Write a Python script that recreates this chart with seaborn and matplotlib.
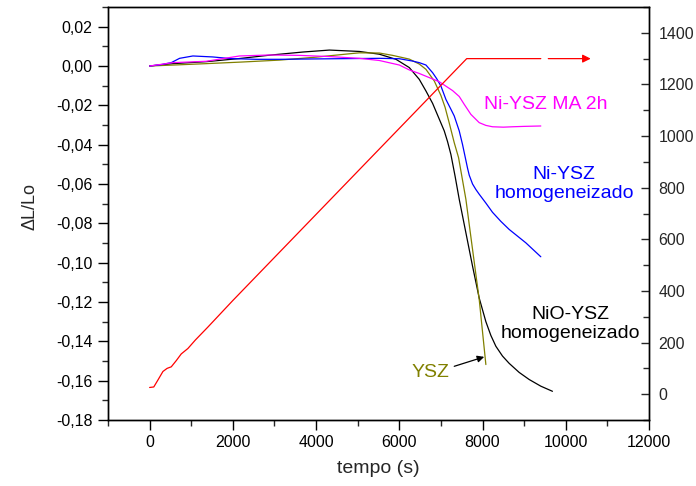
import numpy as np
import pandas as pd
import matplotlib
matplotlib.use("Agg")
import matplotlib.pyplot as plt
from matplotlib.ticker import MultipleLocator, FuncFormatter
import seaborn as sns

# Dilatometry curves: relative shrinkage vs time
t_nio = [0, 560, 1360, 2160, 2880, 3680, 4320, 5040, 5520, 5920, 6240, 6480, 6640,
         6800, 6960, 7080, 7160, 7240, 7340, 7440, 7600, 7760, 7920, 8080, 8200,
         8320, 8480, 8640, 8880, 9120, 9400, 9680]
dl_nio = [0.0, 0.0012, 0.0022, 0.0038, 0.0055, 0.0071, 0.0081, 0.0074, 0.0060, 0.0034,
          -0.0008, -0.0068, -0.0127, -0.0190, -0.0270, -0.0330, -0.0385, -0.0450,
          -0.0560, -0.0678, -0.0848, -0.1018, -0.1180, -0.1300, -0.1370, -0.1425,
          -0.1475, -0.1512, -0.1558, -0.1594, -0.1628, -0.1654]

t_ysz = [0, 700, 1360, 2200, 3120, 4000, 4700, 5040, 5520, 5840, 6240, 6480, 6640,
         6840, 7000, 7100, 7200, 7320, 7424, 7600, 7760, 7920, 8080]
dl_ysz = [0.0, 0.0006, 0.0012, 0.0020, 0.0030, 0.0045, 0.0060, 0.0067, 0.0066, 0.0054,
          0.0035, 0.0010, -0.0017, -0.0076, -0.0150, -0.0210, -0.0290, -0.0390,
          -0.0466, -0.0678, -0.0933, -0.1187, -0.1518]

t_ni = [0, 250, 520, 720, 1040, 1520, 1920, 2560, 3120, 4000, 5000, 5520, 6000, 6320,
        6480, 6640, 6800, 6900, 7000, 7120, 7240, 7320, 7440, 7520, 7600, 7640, 7680,
        7760, 7840, 7920, 8080, 8240, 8440, 8640, 9040, 9400]
dl_ni = [0.0, 0.0006, 0.0017, 0.0039, 0.0051, 0.0046, 0.0038, 0.0034, 0.0034, 0.0036,
         0.0038, 0.0039, 0.0037, 0.0025, 0.0017, 0.0005, -0.0034, -0.0065, -0.0102,
         -0.0170, -0.0220, -0.0254, -0.0330, -0.0400, -0.0480, -0.0520, -0.0555,
         -0.0600, -0.0628, -0.0652, -0.0697, -0.0744, -0.0790, -0.0831, -0.0899,
         -0.0970]

t_ma = [0, 560, 1360, 2160, 2880, 3600, 4320, 5040, 5520, 6000, 6240, 6480, 6960, 7280,
        7440, 7560, 7720, 7920, 8080, 8240, 8500, 8720, 9000, 9400]
dl_ma = [0.0, 0.0017, 0.0024, 0.0051, 0.0056, 0.0054, 0.0048, 0.0039, 0.0028, 0.0005,
         -0.0020, -0.0038, -0.0080, -0.0125, -0.0155, -0.0195, -0.0246, -0.0288,
         -0.0302, -0.0309, -0.0311, -0.0309, -0.0307, -0.0305]

# Furnace temperature programme (right axis)
t_temp = [0, 100, 200, 320, 420, 520, 640, 760, 920, 1100, 1400, 2000, 7620, 9400]
temp = [26, 28, 55, 88, 100, 106, 130, 156, 177, 210, 260, 363, 1300, 1300]

series = [
    ("NiO-YSZ homogeneizado", t_nio, dl_nio, "black"),
    ("YSZ", t_ysz, dl_ysz, "#808000"),
    ("Ni-YSZ homogeneizado", t_ni, dl_ni, "#0000ff"),
    ("Ni-YSZ MA 2h", t_ma, dl_ma, "#ff00ff"),
]

sns.set_theme(style="ticks")
plt.rcParams["font.family"] = ["Liberation Sans", "DejaVu Sans"]
plt.rcParams["axes.linewidth"] = 1.0
plt.rcParams["lines.solid_joinstyle"] = "round"

fig = plt.figure(figsize=(6.96, 4.86), dpi=100)
ax = fig.add_axes([108 / 696, 1 - 420 / 486, 541 / 696, 413 / 486])
ax2 = ax.twinx()

for name, t, d, c in series:
    df = pd.DataFrame({"tempo": t, "dl": d})
    sns.lineplot(data=df, x="tempo", y="dl", ax=ax, color=c, lw=0.9,
                 estimator=None)

df_t = pd.DataFrame({"tempo": t_temp, "T": temp})
sns.lineplot(data=df_t, x="tempo", y="T", ax=ax2, color="#ff0000", lw=0.9,
             estimator=None)

ax.set_xlim(-1000, 12000)
ax.set_ylim(-0.18, 0.03)
ax2.set_ylim(-100, 1500)

comma = lambda fmt: FuncFormatter(lambda v, p: (fmt % (0.0 if abs(v) < 1e-12 else v)).replace(".", ","))
ax.xaxis.set_major_locator(MultipleLocator(2000))
ax.xaxis.set_minor_locator(MultipleLocator(1000))
ax.yaxis.set_major_locator(MultipleLocator(0.02))
ax.yaxis.set_minor_locator(MultipleLocator(0.01))
ax.yaxis.set_major_formatter(comma("%.2f"))
ax.xaxis.set_major_formatter(FuncFormatter(lambda v, p: "%d" % v))
ax2.yaxis.set_major_locator(MultipleLocator(200))
ax2.yaxis.set_minor_locator(MultipleLocator(100))
ax2.yaxis.set_major_formatter(FuncFormatter(lambda v, p: "%d" % v))

ax.tick_params(axis="both", which="major", direction="out", length=7, width=1.0,
               labelsize=11.5, pad=4, colors="black")
ax.tick_params(axis="both", which="minor", direction="out", length=4, width=1.0)
ax.tick_params(top=False, right=False, which="both")
ax2.tick_params(axis="y", which="major", direction="in", length=6, width=1.0,
                labelsize=11.5, pad=7)
ax2.tick_params(axis="y", which="minor", direction="in", length=4, width=1.0)

for a in (ax, ax2):
    for s in a.spines.values():
        s.set_visible(True)
        s.set_color("black")
        s.set_linewidth(1.0)

ax.set_xlabel("tempo (s)", fontsize=14)
ax.set_ylabel("ΔL/Lo", fontsize=13)
ax2.set_ylabel("")
ax.xaxis.set_label_coords(0.5, -0.097)
ax.yaxis.set_label_coords(-0.128, 0.516)

ax.text(9520, -0.0195, "Ni-YSZ MA 2h", color="#ff00ff", fontsize=14,
        ha="center", va="center")
ax.text(9960, -0.0602, "Ni-YSZ\nhomogeneizado", color="#0000ff", fontsize=14,
        ha="center", va="center", linespacing=1.15)
ax.text(10120, -0.1314, "NiO-YSZ\nhomogeneizado", color="black", fontsize=14,
        ha="center", va="center", linespacing=1.15)
ax.text(6760, -0.1560, "YSZ", color="#808000", fontsize=14, ha="center", va="center")
ax.annotate("", xy=(8040, -0.1479), xytext=(7320, -0.1527),
            arrowprops=dict(arrowstyle="-|>", color="black", lw=0.9,
                            mutation_scale=10, shrinkA=0, shrinkB=0))
ax2.annotate("", xy=(10600, 1300), xytext=(9580, 1300),
             arrowprops=dict(arrowstyle="-|>", color="#ff0000", lw=0.9,
                             mutation_scale=12, shrinkA=0, shrinkB=0))

fig.savefig("out.png", dpi=100)
